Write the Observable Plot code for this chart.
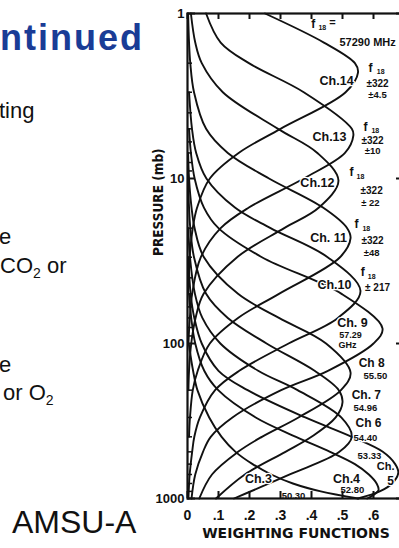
<!DOCTYPE html>
<html><head><meta charset="utf-8">
<script src="https://cdn.jsdelivr.net/npm/d3@7"></script>
<script src="https://cdn.jsdelivr.net/npm/@observablehq/plot@0.6"></script>
<style>
html,body{margin:0;padding:0;background:#fff;overflow:hidden;width:399px;height:548px;}
#wrap{position:relative;width:399px;height:548px;overflow:hidden;background:#fff;}
#chart{position:absolute;left:0;top:0;width:420px;height:548px;}
#chart svg{max-width:none !important;}
#slide{position:absolute;left:0;top:0;}
</style></head><body>
<div id="wrap">
<div id="chart"></div>
<svg id="slide" width="399" height="548" font-family="Liberation Sans, Arial, sans-serif">
  <text x="0" y="50" font-size="36" font-weight="bold" fill="#1a3c96" letter-spacing="2">ntinued</text>
  <text x="-1" y="118" font-size="22" fill="#111">ting</text>
  <text x="-1" y="244" font-size="22" fill="#111">e</text>
  <text x="0" y="273" font-size="22" fill="#111">CO<tspan font-size="14" dy="5">2</tspan><tspan dy="-5"> or</tspan></text>
  <text x="-1" y="372" font-size="22" fill="#111">e</text>
  <text x="3" y="400" font-size="22" fill="#111">or O<tspan font-size="14" dy="5">2</tspan></text>
  <text x="12" y="533" font-size="32" fill="#111">AMSU-A</text>
</svg>
</div>
<script>
// Weighting function curves: [weight, pressure (mb)]
const ch14 = [[0.25,1],[0.44,1.5],[0.54,2],[0.55,2.28],[0.51,3],[0.30,5],[0.165,7],[0.072,10],[0.031,15],[0.017,20],[0.007,30],[0.002,50]];
const ch13 = [[0.06,1],[0.107,1.5],[0.198,2],[0.375,3],[0.53,5],[0.535,5.5],[0.508,7],[0.375,10],[0.198,15],[0.107,20],[0.043,30],[0.015,50],[0.0075,70],[0.003,100]];
const ch12 = [[0.011,1],[0.025,1.5],[0.046,2],[0.114,3],[0.292,5],[0.419,7],[0.487,10.3],[0.424,15],[0.312,20],[0.16,30],[0.052,50],[0.026,70],[0.012,100],[0.005,150],[0.003,200]];
const ch11 = [[0.002,1],[0.005,1.5],[0.009,2],[0.021,3],[0.06,5],[0.13,7],[0.263,10],[0.437,15],[0.515,20],[0.526,23],[0.492,30],[0.295,50],[0.163,70],[0.072,100],[0.033,150],[0.017,200],[0.008,300],[0.005,400]];
const ch10 = [[0.005,3],[0.0145,5],[0.028,7],[0.061,10],[0.153,15],[0.268,20],[0.452,30],[0.558,48],[0.485,70],[0.326,100],[0.167,150],[0.089,200],[0.04,300],[0.022,400],[0.015,500],[0.007,700],[0.003,1000]];
const ch9  = [[0.005,5],[0.011,7],[0.023,10],[0.053,15],[0.10,20],[0.24,30],[0.497,50],[0.629,81],[0.60,100],[0.453,150],[0.302,200],[0.145,300],[0.075,400],[0.05,500],[0.025,700],[0.013,1000]];
const ch8  = [[0.002,7],[0.005,10],[0.013,15],[0.023,20],[0.053,30],[0.163,50],[0.295,70],[0.447,100],[0.526,154],[0.495,200],[0.358,300],[0.24,400],[0.163,500],[0.079,700],[0.038,1000]];
const ch7  = [[0.002,10],[0.005,15],[0.009,20],[0.021,30],[0.06,50],[0.13,70],[0.255,100],[0.41,150],[0.488,200],[0.50,240],[0.478,300],[0.40,400],[0.316,500],[0.185,700],[0.092,1000]];
const ch6  = [[0.003,20],[0.008,30],[0.024,50],[0.048,70],[0.106,100],[0.228,150],[0.355,200],[0.496,300],[0.53,400],[0.49,500],[0.33,700],[0.15,1000]];
const ch5  = [[0.003,30],[0.010,50],[0.022,70],[0.046,100],[0.10,150],[0.194,200],[0.38,300],[0.53,400],[0.63,500],[0.67,600],[0.68,680],[0.66,800],[0.62,900],[0.55,1000]];
const ch4  = [[0.005,50],[0.012,70],[0.025,100],[0.054,150],[0.099,200],[0.22,300],[0.35,400],[0.46,500],[0.54,600],[0.585,700],[0.61,800],[0.616,887],[0.58,1000]];
const ch3  = [[0.004,100],[0.018,150],[0.032,200],[0.07,300],[0.11,400],[0.155,500],[0.21,600],[0.27,700],[0.34,800],[0.43,900],[0.55,1000]];

const channelNames = ["Ch.3","Ch.4","Ch.5","Ch.6","Ch.7","Ch.8","Ch.9","Ch.10","Ch.11","Ch.12","Ch.13","Ch.14"];
const channelSeries = [ch3,ch4,ch5,ch6,ch7,ch8,ch9,ch10,ch11,ch12,ch13,ch14];

// Axis ticks
const yTickValues = [1,10,100,1000];
const yMinorTicks = [2,3,4,5,6,7,8,9,20,30,40,50,60,70,80,90,200,300,400,500,600,700,800,900];
const xTickValues = [0,0.1,0.2,0.3,0.4,0.5,0.6,0.7];
const xTickLabels = ["0",".1",".2",".3",".4",".5",".6",".7"];

// Annotation texts with weight / pressure positions and font size
const labelTexts = ["f","18","=","57290 MHz","Ch.14","f","18","±322","±4.5",
  "Ch.13","f","18","±322","±10",
  "Ch.12","f","18","±322","± 22",
  "f","18","Ch. 11","±322","±48",
  "f","18","Ch.10","± 217",
  "Ch. 9","57.29","GHz","Ch 8","55.50","Ch. 7","54.96","Ch 6","54.40",
  "53.33","Ch.","5","Ch.3","Ch.4","52.80","50.30"];
const labelW = [0.406,0.435,0.468,0.581,0.481,0.590,0.623,0.613,0.613,
  0.458,0.574,0.606,0.597,0.597,
  0.419,0.529,0.558,0.594,0.590,
  0.545,0.577,0.455,0.597,0.594,
  0.565,0.594,0.474,0.613,
  0.532,0.526,0.516,0.594,0.606,0.577,0.574,0.584,0.574,
  0.587,0.639,0.655,0.229,0.513,0.532,0.342];
const labelP = [1.166,1.216,1.13,1.50,2.55,2.15,2.25,2.66,3.10,
  5.64,4.91,5.12,5.89,6.77,
  10.6,9.2,9.72,11.8,14.0,
  19.0,20.1,23.1,23.8,28.1,
  37.2,39.3,44.5,45.8,
  74.6,89.5,103,133,161,216,262,328,404,
  528,625,770,743,743,887,957];
const labelSize = [12,7,11,11,12.5,12,7,10,9.5,
  12.5,12,7,10,9.5,
  12.5,12,7,10,9.5,
  12,7,12.5,10,9.5,
  12,7,12.5,10,
  12.5,9,9,12,9.5,12,9.5,12,9.5,
  9.5,11,12,12.5,12.5,9.5,9.5];

const lineData = channelSeries.flatMap((s, i) => s.map(([w, p]) => ({ch: channelNames[i], w, p})));
const labels = labelTexts.map((t, i) => ({t, w: labelW[i], p: labelP[i], s: labelSize[i]}));

const W = 420, H = 548, mL = 187, mR = 16, mT = 13, mB = 50;
const frameW = W - mL - mR, frameH = H - mT - mB;
const ink = "#111";

const chart = Plot.plot({
  width: W, height: H,
  marginLeft: mL, marginRight: mR, marginTop: mT, marginBottom: mB,
  x: {domain: [0, 0.7], axis: null, label: null},
  y: {type: "log", domain: [1, 10, 100, 1000], range: [13, 178, 343, 498], axis: null, label: null},
  style: {background: "#fff", fontFamily: "Liberation Sans, Arial, sans-serif", color: ink, overflow: "visible", maxWidth: "none"},
  marks: [
    Plot.line(lineData, {x: "w", y: "p", z: "ch", curve: "catmull-rom", stroke: ink, strokeWidth: 1.9}),
    Plot.text(labels, {x: "w", y: "p", text: "t", fontSize: "s", fontWeight: "bold", fill: ink, stroke: "#fff", strokeWidth: 2.5}),
    // inward minor/major ticks on left and right edges
    Plot.tickY(yMinorTicks, {y: d => d, insetRight: frameW - 5, stroke: ink, strokeWidth: 1.5}),
    Plot.tickY(yMinorTicks, {y: d => d, insetLeft: frameW - 5, stroke: ink, strokeWidth: 1.5}),
    Plot.tickY(yTickValues, {y: d => d, insetRight: frameW - 8, stroke: ink, strokeWidth: 2}),
    Plot.tickY(yTickValues, {y: d => d, insetLeft: frameW - 8, stroke: ink, strokeWidth: 2}),
    // inward ticks on top and bottom edges
    Plot.tickX(xTickValues, {x: d => d, insetBottom: frameH - 6, stroke: ink, strokeWidth: 2}),
    Plot.tickX(xTickValues, {x: d => d, insetTop: frameH - 7, stroke: ink, strokeWidth: 2}),
    Plot.frame({stroke: ink, strokeWidth: 2.2}),
    Plot.axisY({ticks: yTickValues, tickSize: 0, tickPadding: 3, label: null, tickFormat: d => String(d), fontSize: 13, fontWeight: "bold"}),
    Plot.axisX({ticks: xTickValues, tickSize: 0, tickPadding: 12, label: null, tickFormat: d => xTickLabels[xTickValues.indexOf(d)], fontSize: 14, fontWeight: "bold"}),
    Plot.text(["WEIGHTING FUNCTIONS"], {frameAnchor: "bottom", dy: 39, fontSize: 14, fontWeight: "bold", fill: ink, fontFamily: "DejaVu Sans, sans-serif"}),
    Plot.text(["PRESSURE (mb)"], {frameAnchor: "left", rotate: -90, dx: -29, fontSize: 13.5, fontWeight: "bold", fill: ink, fontFamily: "Liberation Sans Narrow, DejaVu Sans Condensed, sans-serif"})
  ]
});
document.getElementById("chart").appendChild(chart);
</script>
</body></html>
